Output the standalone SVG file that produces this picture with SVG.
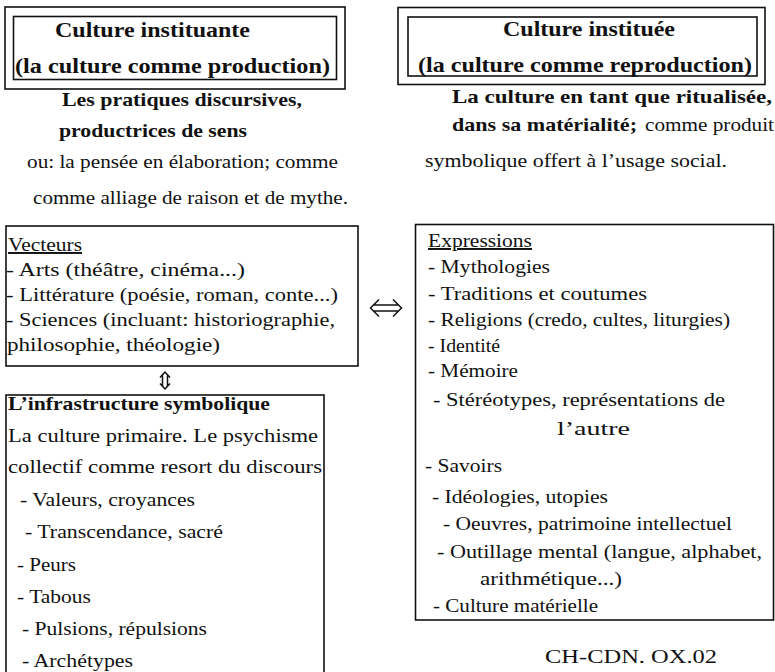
<svg xmlns="http://www.w3.org/2000/svg" width="775" height="672" viewBox="0 0 775 672">
<style>
text{font-family:"Liberation Serif","DejaVu Serif","Times New Roman",Times,serif;fill:#111;font-size:19.5px}
.b{font-weight:bold}
.t{font-weight:bold;font-size:21px}
.u{text-decoration:underline}
.box{fill:none;stroke:#111;stroke-width:1.6}
.con{fill:none;stroke:#111;stroke-width:1.5;stroke-linejoin:miter}
</style>
<rect width="775" height="672" fill="#fff"/>
<g id="culture-instituante">
<rect class="box" x="5" y="7" width="340" height="82"/>
<rect class="box" x="13.5" y="16.5" width="323" height="63"/>
<text class="t" x="55" y="37" textLength="195" lengthAdjust="spacingAndGlyphs">Culture instituante</text>
<text class="t" x="15" y="73" textLength="315" lengthAdjust="spacingAndGlyphs">(la culture comme production)</text>
<text class="b" x="62" y="106" textLength="240" lengthAdjust="spacingAndGlyphs">Les pratiques discursives,</text>
<text class="b" x="59" y="137" textLength="188" lengthAdjust="spacingAndGlyphs">productrices de sens</text>
<text x="27" y="168" textLength="311" lengthAdjust="spacingAndGlyphs">ou: la pensée en élaboration; comme</text>
<text x="33" y="204" textLength="315" lengthAdjust="spacingAndGlyphs">comme alliage de raison et de mythe.</text>
</g>
<g id="culture-instituee">
<rect class="box" x="398" y="7.5" width="367" height="77"/>
<rect class="box" x="408" y="17" width="349" height="59"/>
<text class="t" x="503" y="36" textLength="172" lengthAdjust="spacingAndGlyphs">Culture instituée</text>
<text class="t" x="418" y="72" textLength="334" lengthAdjust="spacingAndGlyphs">(la culture comme reproduction)</text>
<text class="b" x="452" y="103" textLength="320" lengthAdjust="spacingAndGlyphs">La culture en tant que ritualisée,</text>
<text class="b" x="452" y="131" textLength="185" lengthAdjust="spacingAndGlyphs">dans sa matérialité;</text>
<text x="645" y="131" textLength="129" lengthAdjust="spacingAndGlyphs">comme produit</text>
<text x="425" y="167" textLength="302" lengthAdjust="spacingAndGlyphs">symbolique offert à l’usage social.</text>
</g>
<g id="vecteurs">
<rect class="box" x="6" y="226" width="352" height="140"/>
<text class="u" x="8" y="251" textLength="74" lengthAdjust="spacingAndGlyphs">Vecteurs</text>
<text x="6" y="276" textLength="239" lengthAdjust="spacingAndGlyphs">- Arts (théâtre, cinéma...)</text>
<text x="6" y="301" textLength="332" lengthAdjust="spacingAndGlyphs">- Littérature (poésie, roman, conte...)</text>
<text x="6" y="326" textLength="329" lengthAdjust="spacingAndGlyphs">- Sciences (incluant: historiographie,</text>
<text x="7" y="351" textLength="213" lengthAdjust="spacingAndGlyphs">philosophie, théologie)</text>
</g>
<g id="infrastructure">
<rect class="box" x="6" y="395" width="318" height="290"/>
<text class="b" x="8" y="410" textLength="262" lengthAdjust="spacingAndGlyphs">L’infrastructure symbolique</text>
<text x="8" y="442" textLength="310" lengthAdjust="spacingAndGlyphs">La culture primaire. Le psychisme</text>
<text x="8" y="473" textLength="314" lengthAdjust="spacingAndGlyphs">collectif comme resort du discours</text>
<text x="20" y="506" textLength="175" lengthAdjust="spacingAndGlyphs">- Valeurs, croyances</text>
<text x="25" y="538" textLength="198" lengthAdjust="spacingAndGlyphs">- Transcendance, sacré</text>
<text x="17" y="571" textLength="59" lengthAdjust="spacingAndGlyphs">- Peurs</text>
<text x="17" y="603" textLength="74" lengthAdjust="spacingAndGlyphs">- Tabous</text>
<text x="22" y="635" textLength="185" lengthAdjust="spacingAndGlyphs">- Pulsions, répulsions</text>
<text x="22" y="667" textLength="111" lengthAdjust="spacingAndGlyphs">- Archétypes</text>
</g>
<g id="expressions">
<rect class="box" x="415.5" y="224.5" width="358" height="395.5"/>
<text class="u" x="428" y="247" textLength="104" lengthAdjust="spacingAndGlyphs">Expressions</text>
<text x="428" y="273" textLength="122" lengthAdjust="spacingAndGlyphs">- Mythologies</text>
<text x="428" y="300" textLength="219" lengthAdjust="spacingAndGlyphs">- Traditions et coutumes</text>
<text x="428" y="326" textLength="302" lengthAdjust="spacingAndGlyphs">- Religions (credo, cultes, liturgies)</text>
<text x="428" y="352" textLength="72" lengthAdjust="spacingAndGlyphs">- Identité</text>
<text x="428" y="377" textLength="90" lengthAdjust="spacingAndGlyphs">- Mémoire</text>
<text x="433" y="406" textLength="292" lengthAdjust="spacingAndGlyphs">- Stéréotypes, représentations de</text>
<text x="557" y="435" textLength="73" lengthAdjust="spacingAndGlyphs">l’autre</text>
<text x="425" y="472" textLength="77" lengthAdjust="spacingAndGlyphs">- Savoirs</text>
<text x="432" y="503" textLength="176" lengthAdjust="spacingAndGlyphs">- Idéologies, utopies</text>
<text x="443" y="530" textLength="289" lengthAdjust="spacingAndGlyphs">- Oeuvres, patrimoine intellectuel</text>
<text x="437" y="558" textLength="325" lengthAdjust="spacingAndGlyphs">- Outillage mental (langue, alphabet,</text>
<text x="480" y="585" textLength="142" lengthAdjust="spacingAndGlyphs">arithmétique...)</text>
<text x="433" y="612" textLength="165" lengthAdjust="spacingAndGlyphs">- Culture matérielle</text>
</g>
<g id="reference">
<text x="545" y="663" textLength="172" lengthAdjust="spacingAndGlyphs">CH-CDN. OX.02</text>
</g>
<g id="connectors">
<path class="con" d="M374 305H398M374 311H398M379 299.5L370.5 308L379 316.5M393 299.5L401.5 308L393 316.5"/>
<path class="con" d="M162.5 375V386M167.5 375V386M160 377.5L165 372L170 377.5M160 383.5L165 389L170 383.5" stroke-width="1.3"/>
</g>
</svg>
